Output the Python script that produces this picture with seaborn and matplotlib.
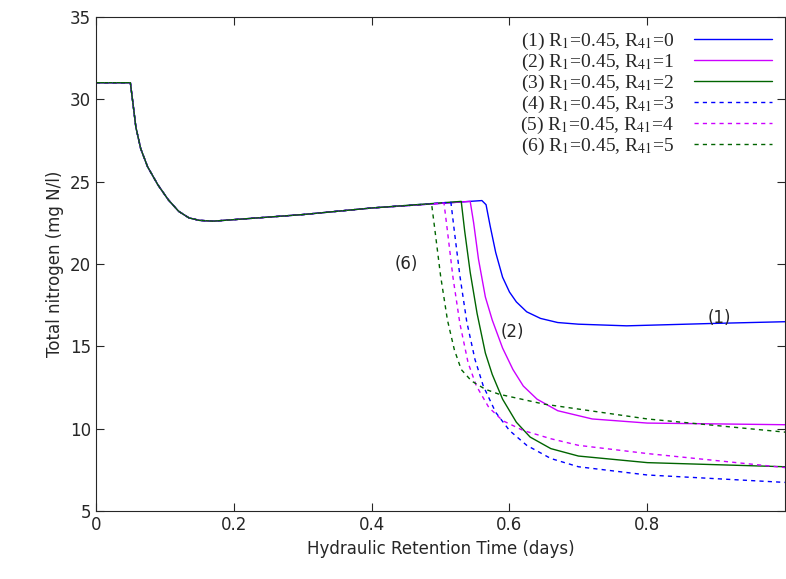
import numpy as np
import pandas as pd
import seaborn as sns
import matplotlib.pyplot as plt

# shared start-up part (before the switch)
x_head = [0.0, 0.05, 0.053, 0.058, 0.065, 0.075, 0.09, 0.105, 0.12, 0.135, 0.15, 0.17, 0.3, 0.4]
y_head = [31.0, 31.0, 30.0, 28.3, 27.0, 25.9, 24.8, 23.9, 23.2, 22.8, 22.65, 22.6, 23.0, 23.4]

# tails of each run
x1 = [0.56, 0.566, 0.572, 0.58, 0.59, 0.6, 0.61, 0.625, 0.645, 0.67, 0.7, 0.77, 0.9, 1.0]
y1 = [23.85, 23.6, 22.3, 20.7, 19.2, 18.3, 17.7, 17.1, 16.7, 16.45, 16.35, 16.25, 16.4, 16.5]
x2 = [0.543, 0.548, 0.555, 0.565, 0.575, 0.59, 0.605, 0.62, 0.64, 0.67, 0.72, 0.8, 1.0]
y2 = [23.8, 22.5, 20.3, 18.0, 16.6, 14.9, 13.6, 12.6, 11.8, 11.1, 10.6, 10.35, 10.25]
x3 = [0.53, 0.535, 0.543, 0.553, 0.565, 0.575, 0.59, 0.61, 0.63, 0.66, 0.7, 0.8, 1.0]
y3 = [23.8, 22.0, 19.5, 17.0, 14.6, 13.3, 11.8, 10.4, 9.5, 8.8, 8.35, 7.95, 7.7]
x4 = [0.515, 0.52, 0.528, 0.538, 0.55, 0.562, 0.58, 0.6, 0.625, 0.66, 0.7, 0.8, 1.0]
y4 = [23.75, 22.0, 19.3, 16.5, 14.2, 12.6, 11.0, 9.9, 9.0, 8.2, 7.7, 7.2, 6.75]
x5 = [0.505, 0.51, 0.518, 0.528, 0.54, 0.552, 0.57, 0.59, 0.62, 0.66, 0.7, 0.8, 1.0]
y5 = [23.7, 22.0, 19.2, 16.4, 14.0, 12.6, 11.3, 10.5, 9.9, 9.4, 9.0, 8.5, 7.65]
x6 = [0.487, 0.492, 0.5, 0.51, 0.52, 0.53, 0.545, 0.565, 0.585, 0.65, 0.8, 1.0]
y6 = [23.65, 22.0, 19.3, 16.6, 14.8, 13.6, 12.9, 12.4, 12.1, 11.5, 10.6, 9.8]

labels = ['(1) R$_1$=0.45, R$_{41}$=0', '(2) R$_1$=0.45, R$_{41}$=1',
          '(3) R$_1$=0.45, R$_{41}$=2', '(4) R$_1$=0.45, R$_{41}$=3',
          '(5) R$_1$=0.45, R$_{41}$=4', '(6) R$_1$=0.45, R$_{41}$=5']
colors = ['#0000ff', '#cc00ff', '#006400', '#0000ff', '#cc00ff', '#006400']
dashed = [False, False, False, True, True, True]

sns.set_style('ticks')
plt.rcParams['font.family'] = ['DejaVu Sans']
plt.rcParams['mathtext.fontset'] = 'stix'

fig = plt.figure(figsize=(7.86, 5.79), dpi=100)
ax = fig.add_axes([0.122, 0.117, 0.877, 0.854])

tails = [(x1, y1), (x2, y2), (x3, y3), (x4, y4), (x5, y5), (x6, y6)]
for (xt, yt), lab, c, d in zip(tails, labels, colors, dashed):
    df = pd.DataFrame({'x': x_head + xt, 'y': y_head + yt})
    sns.lineplot(data=df, x='x', y='y', ax=ax, color=c, lw=1.0,
                 linestyle=(0, (3, 3)) if d else '-', label=lab)

ax.text(0.45, 20.0, '(6)', fontsize=12, ha='center', va='center')
ax.text(0.604, 15.9, '(2)', fontsize=12, ha='center', va='center')
ax.text(0.905, 16.7, '(1)', fontsize=12, ha='center', va='center')

ax.set_xlim(0, 1.0)
ax.set_ylim(5, 35)
ax.set_xticks([0, 0.2, 0.4, 0.6, 0.8])
ax.set_xticklabels(['0', '0.2', '0.4', '0.6', '0.8'])
ax.set_yticks([5, 10, 15, 20, 25, 30, 35])
ax.tick_params(direction='in', top=True, right=True, labelsize=12, length=6)
ax.set_xlabel('Hydraulic Retention Time (days)', fontsize=12)
ax.set_ylabel('Total nitrogen (mg N/l)', fontsize=12)

leg = ax.legend(loc='upper right', frameon=False, markerfirst=False,
                prop={'family': 'Liberation Serif', 'size': 14},
                handlelength=4, handletextpad=1.0, labelspacing=0.0,
                borderaxespad=0.3)

fig.savefig('out.png', dpi=100)
